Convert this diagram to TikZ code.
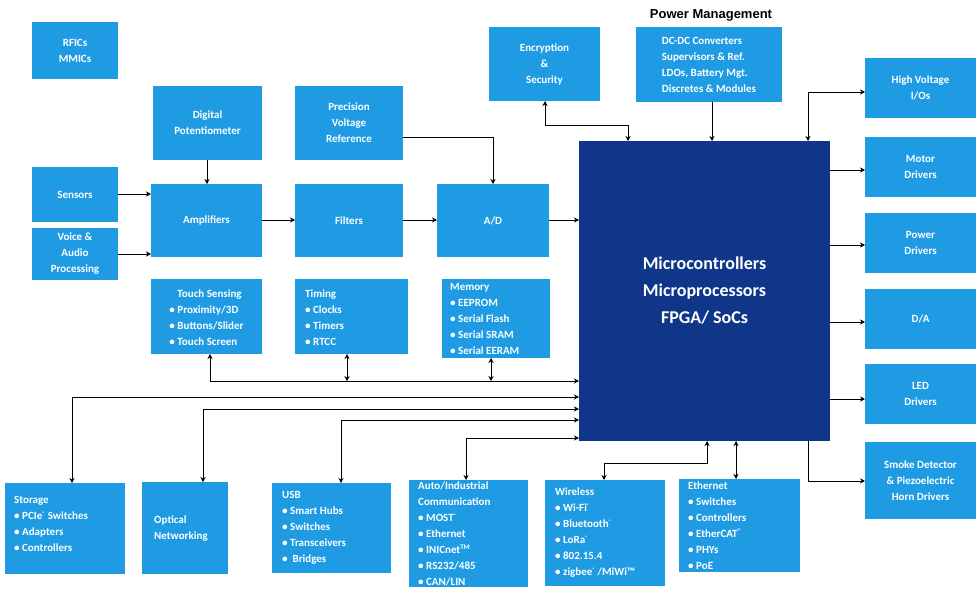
\documentclass[tikz,border=0pt]{standalone}
\usepackage{fontspec}
\setmainfont{Carlito}
\newfontfamily\arialf{Liberation Sans}
\usetikzlibrary{arrows.meta}
\definecolor{lb}{HTML}{1E9BE3}
\definecolor{db}{HTML}{10368A}
\newcommand{\rg}{\textsuperscript{\tiny\textregistered}}
\begin{document}
\begin{tikzpicture}[x=1pt,y=-1pt,
  bx/.style={fill=lb,text=white,font=\bfseries\fontsize{11}{16}\selectfont,inner sep=0pt},
  cb/.style={bx,align=center},
  lbx/.style={bx,align=left},
  ar/.style={-{Stealth[length=5pt,width=5pt]},black,line width=0.6pt},
  dar/.style={{Stealth[length=5pt,width=5pt]}-{Stealth[length=5pt,width=5pt]},black,line width=0.6pt}]
\useasboundingbox (0,0) rectangle (980,600);
\newcommand{\B}[6]{\fill[lb] (#1,#2) rectangle (#3,#4); \node[#5] (#6) at ({(#1+#3)/2},{(#2+#4)/2}) {};}
% boxes
\fill[lb] (32,22) rectangle (118,79);
\node[bx,align=center] (rf) at (75,50.5) {RFICs\\MMICs};
\fill[lb] (153,86) rectangle (262,160);
\node[cb] (dp) at (207.5,123) {Digital\\Potentiometer};
\fill[lb] (295,86) rectangle (403,160);
\node[cb] (pv) at (349,123) {Precision\\Voltage\\Reference};
\fill[lb] (489,27) rectangle (600,101);
\node[cb] (en) at (544.5,64) {Encryption\\\&\\Security};
\node[font=\arialf\bfseries\fontsize{13}{15}\selectfont] (pmt) at (711,15) {Power Management};
\fill[lb] (636,27) rectangle (782,102);
\node[lbx] (pm) at (709,64.5) {DC-DC Converters\\Supervisors \& Ref.\\LDOs, Battery Mgt.\\Discretes \& Modules};
\fill[lb] (865,58) rectangle (976,118);
\node[cb] (hv) at (920.5,88) {High Voltage\\I/Os};
\fill[lb] (865,137) rectangle (976,197);
\node[cb] (mo) at (920.5,167) {Motor\\Drivers};
\fill[lb] (865,213) rectangle (976,273);
\node[cb] (pd) at (920.5,243) {Power\\Drivers};
\fill[lb] (865,289) rectangle (976,349);
\node[cb] (da) at (920.5,319) {D/A};
\fill[lb] (865,364) rectangle (976,424);
\node[cb] (led) at (920.5,394) {LED\\Drivers};
\fill[lb] (865,442) rectangle (976,519);
\node[cb] (sm) at (920.5,480.5) {Smoke Detector\\\& Piezoelectric\\Horn Drivers};
\fill[db] (579,141) rectangle (830,441);
\node[text=white,font=\bfseries\fontsize{18}{27}\selectfont,align=center] (mcu) at (704.5,291) {Microcontrollers\\Microprocessors\\FPGA/ SoCs};
\fill[lb] (32,167) rectangle (118,222);
\node[cb] (se) at (75,194.5) {Sensors};
\fill[lb] (32,228) rectangle (118,280);
\node[cb] (vo) at (75,254) {Voice \&\\Audio\\Processing};
\fill[lb] (151,184) rectangle (262,257);
\node[cb] (am) at (206.5,220.5) {Amplifiers};
\fill[lb] (295,184) rectangle (403,257);
\node[cb] (fi) at (349,220.5) {Filters};
\fill[lb] (437,184) rectangle (549,257);
\node[cb] (ad) at (493,220.5) {A/D};
\fill[lb] (151,279) rectangle (262,354);
\node[lbx] (ts) at (206.5,318) {\hspace*{8pt}Touch Sensing\\• Proximity/3D\\• Buttons/Slider\\• Touch Screen};
\fill[lb] (295,279) rectangle (408,354);
\node[lbx,anchor=west] (ti) at (305,318) {Timing\\• Clocks\\• Timers\\• RTCC};
\fill[lb] (442,279) rectangle (550,358);
\node[lbx,anchor=west] (me) at (450,319) {Memory\\• EEPROM\\• Serial Flash\\• Serial SRAM\\• Serial EERAM};
\fill[lb] (5,483) rectangle (125,574);
\node[lbx,anchor=west] (st) at (14,524) {Storage\\• PCIe\rg\ Switches\\• Adapters\\• Controllers};
\fill[lb] (142,482) rectangle (228,574);
\node[lbx,anchor=west] (op) at (154,529) {Optical\\Networking};
\fill[lb] (272,483) rectangle (391,573);
\node[lbx,anchor=west] (us) at (282,528) {USB\\• Smart Hubs\\• Switches\\• Transceivers\\• \ Bridges};
\fill[lb] (409,480) rectangle (528,587);
\node[lbx,anchor=west] (au) at (418,534) {Auto/Industrial\\Communication\\• MOST\rg\\• Ethernet\\• INICnet\textsuperscript{\scriptsize TM}\\• RS232/485\\• CAN/LIN};
\fill[lb] (545,480) rectangle (665,586);
\node[lbx,anchor=west] (wi) at (555,533) {Wireless\\• Wi-Fi\rg\\• Bluetooth\rg\\• LoRa\rg\\• 802.15.4\\• zigbee\rg\,/MiWi™};
\fill[lb] (679,479) rectangle (800,572);
\node[lbx,anchor=west] (et) at (688,526) {Ethernet\\• Switches\\• Controllers\\• EtherCAT\textsuperscript{\scriptsize ®}\\• PHYs\\• PoE};
% connectors
\draw[ar] (118,194) -- (151,194);
\draw[ar] (118,254) -- (151,254);
\draw[ar] (207,160) -- (207,184);
\draw[ar] (262,220) -- (295,220);
\draw[ar] (403,220) -- (437,220);
\draw[ar] (549,220) -- (579,220);
\draw[ar] (403,137) -| (493,184);
\draw[dar] (545,101) |- (628,125) -- (628,141);
\draw[ar] (712,102) -- (712,141);
\draw[dar] (808,141) |- (865,92);
\draw[ar] (830,170) -- (865,170);
\draw[ar] (830,245) -- (865,245);
\draw[ar] (830,322) -- (865,322);
\draw[ar] (830,399) -- (865,399);
\draw[ar] (808,441) |- (865,481);
\draw[dar] (210,354) |- (579,381);
\draw[dar] (347,354) -- (347,381);
\draw[dar] (491,358) -- (491,381);
\draw[dar] (72,483) |- (579,397);
\draw[dar] (203,482) |- (579,409);
\draw[dar] (341,483) |- (579,420);
\draw[dar] (466,480) |- (579,438);
\draw[dar] (604,480) |- (707,463) -- (707,441);
\draw[dar] (736,441) -- (736,479);
\end{tikzpicture}
\end{document}
